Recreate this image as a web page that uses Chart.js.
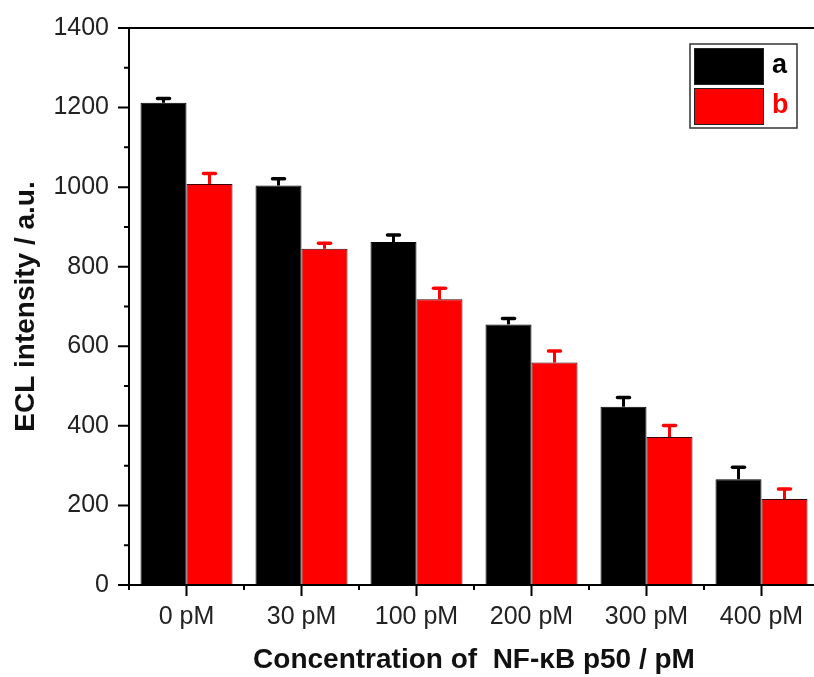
<!DOCTYPE html>
<html>
<head>
<meta charset="utf-8">
<script src="https://cdn.jsdelivr.net/npm/chart.js@4.4.1/dist/chart.umd.min.js"></script>
<style>
  html, body { margin: 0; padding: 0; background: #fff; overflow: hidden; }
  #wrap { width: 822px; height: 677px; }
</style>
</head>
<body>
<div id="wrap"><canvas id="eclChart" width="822" height="677"></canvas></div>
<script>
// 농도별 카테고리와 두 계열의 ECL 값 / 오차
const categories = ['0 pM', '30 pM', '100 pM', '200 pM', '300 pM', '400 pM'];
const seriesA = [1212, 1004, 862, 655, 448, 266];
const errorA = [11, 17, 18, 15, 23, 30];
const seriesB = [1008, 845, 718, 559, 372, 216];
const errorB = [26, 14, 28, 29, 29, 25];
const yTicks = [0, 200, 400, 600, 800, 1000, 1200, 1400];

const FONT = 'Liberation Sans, Arial, sans-serif';

// 위쪽 오차 막대만 그림
const errorBarPlugin = {
    id: 'errorBars',
    afterDatasetsDraw(chart) {
        const ctx = chart.ctx;
        const yScale = chart.scales.y;
        chart.data.datasets.forEach((ds, di) => {
            const meta = chart.getDatasetMeta(di);
            meta.data.forEach((bar, i) => {
                const top = yScale.getPixelForValue(ds.data[i] + ds.errors[i]);
                ctx.save();
                ctx.strokeStyle = ds.backgroundColor;
                ctx.lineWidth = 3;
                ctx.beginPath();
                ctx.moveTo(bar.x, bar.y);
                ctx.lineTo(bar.x, top);
                ctx.stroke();
                ctx.lineWidth = 3.5;
                ctx.lineCap = 'round';
                ctx.beginPath();
                ctx.moveTo(bar.x - 6, top);
                ctx.lineTo(bar.x + 6, top);
                ctx.stroke();
                ctx.restore();
            });
        });
    }
};

// 축선, 눈금(주/보조), 윗테두리, 범례
const framePlugin = {
    id: 'frame',
    afterDraw(chart) {
        const ctx = chart.ctx;
        const area = chart.chartArea;
        const x = chart.scales.x;
        const y = chart.scales.y;
        ctx.save();
        ctx.strokeStyle = '#000';
        ctx.lineWidth = 2;
        ctx.beginPath();
        ctx.moveTo(area.left, area.top);
        ctx.lineTo(area.right + 4, area.top);
        ctx.moveTo(area.left, area.top);
        ctx.lineTo(area.left, area.bottom);
        ctx.lineTo(area.right + 4, area.bottom);
        // y 눈금: 200마다 주눈금, 100마다 보조눈금
        for (let v = 0; v <= 1400; v += 100) {
            const py = y.getPixelForValue(v);
            const len = v % 200 === 0 ? 11 : 5;
            ctx.moveTo(area.left - len, py);
            ctx.lineTo(area.left, py);
        }
        // x 눈금: 카테고리 중앙은 주눈금, 경계는 보조눈금
        const step = (area.right - area.left) / categories.length;
        categories.forEach((c, i) => {
            const px = x.getPixelForValue(i);
            ctx.moveTo(px, area.bottom);
            ctx.lineTo(px, area.bottom + 11);
            const bx = area.left + step * i;
            ctx.moveTo(bx, area.bottom);
            ctx.lineTo(bx, area.bottom + 5);
        });
        ctx.stroke();

        // 범례 상자
        const boxRight = area.right - 22;
        const boxLeft = boxRight - 107;
        const boxTop = area.top + 16;
        const boxH = 84;
        ctx.lineWidth = 1.5;
        ctx.strokeStyle = '#333';
        ctx.strokeRect(boxLeft, boxTop, 107, boxH);
        chart.data.datasets.forEach((ds, i) => {
            const sy = boxTop + 4 + i * 40;
            ctx.fillStyle = ds.backgroundColor;
            ctx.fillRect(boxLeft + 4, sy, 70, 37);
            ctx.lineWidth = 1;
            ctx.strokeStyle = '#222';
            ctx.strokeRect(boxLeft + 4.5, sy + 0.5, 69, 36);
            ctx.fillStyle = ds.backgroundColor;
            ctx.font = 'bold 27px ' + FONT;
            ctx.textBaseline = 'middle';
            ctx.textAlign = 'left';
            ctx.fillText(ds.label, boxLeft + 82, sy + 18);
        });
        ctx.restore();
    }
};

const ctx = document.getElementById('eclChart').getContext('2d');
new Chart(ctx, {
    type: 'bar',
    data: {
        labels: categories,
        datasets: [
            {
                label: 'a',
                data: seriesA,
                errors: errorA,
                backgroundColor: '#000000',
                borderColor: '#000000',
                borderWidth: 1,
                categoryPercentage: 0.8,
                barPercentage: 1.0
            },
            {
                label: 'b',
                data: seriesB,
                errors: errorB,
                backgroundColor: '#ff0000',
                borderColor: '#3a0000',
                borderWidth: 1,
                categoryPercentage: 0.8,
                barPercentage: 1.0
            }
        ]
    },
    options: {
        responsive: false,
        animation: false,
        layout: { padding: { top: 28, right: 3, left: 0, bottom: 0 } },
        plugins: {
            legend: { display: false },
            tooltip: { enabled: false }
        },
        scales: {
            x: {
                grid: { display: false, drawTicks: false },
                border: { display: false },
                ticks: {
                    color: '#222',
                    font: { family: FONT, size: 25 },
                    padding: 17,
                    maxRotation: 0,
                    autoSkip: false
                },
                title: {
                    display: true,
                    text: 'Concentration of  NF-κB p50 / pM',
                    color: '#111',
                    font: { family: FONT, size: 28, weight: 'bold' },
                    padding: { top: 0, bottom: 0 }
                },
                afterFit(scale) { scale.height = 92; }
            },
            y: {
                min: 0,
                max: 1400,
                afterBuildTicks(scale) { scale.ticks = yTicks.map(v => ({ value: v })); },
                grid: { display: false, drawTicks: false },
                border: { display: false },
                ticks: {
                    color: '#222',
                    font: { family: FONT, size: 25 },
                    padding: 20,
                    callback: v => String(v)
                },
                title: {
                    display: true,
                    text: 'ECL intensity / a.u.',
                    color: '#111',
                    font: { family: FONT, size: 28, weight: 'bold' },
                    padding: { top: 9, bottom: 0 }
                },
                afterFit(scale) {
                    scale.width = 129;
                    scale.paddingTop = 0;
                    scale.paddingBottom = 0;
                }
            }
        }
    },
    plugins: [errorBarPlugin, framePlugin]
});
</script>
</body>
</html>
